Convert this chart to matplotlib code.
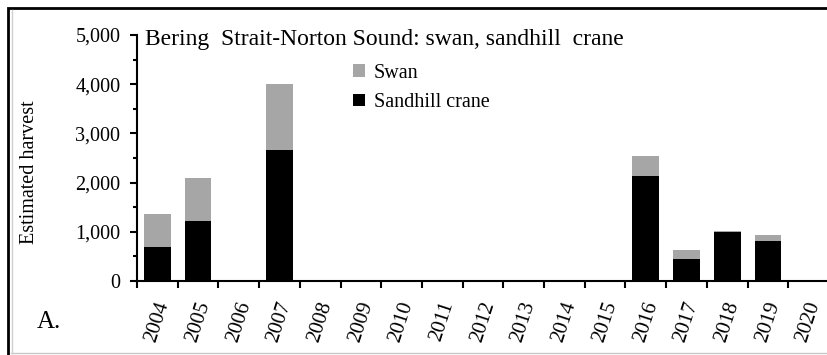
import matplotlib
matplotlib.use('Agg')
import matplotlib.pyplot as plt
import numpy as np
from matplotlib.patches import Rectangle
from matplotlib.lines import Line2D

years = ['2004', '2005', '2006', '2007', '2008', '2009', '2010', '2011', '2012',
         '2013', '2014', '2015', '2016', '2017', '2018', '2019', '2020']
sandhill_crane = [690, 1210, 0, 2660, 0, 0, 0, 0, 0, 0, 0, 0, 2140, 450, 1000, 810, 0]
swan = [670, 880, 0, 1340, 0, 0, 0, 0, 0, 0, 0, 0, 400, 180, 10, 130, 0]

plt.rcParams['font.family'] = ['Liberation Serif', 'DejaVu Serif']

W, H = 827, 355
fig = plt.figure(figsize=(W / 100, H / 100), dpi=100)
ax = fig.add_axes([137 / W, (H - 281) / H, (829 - 137) / W, 246 / H])

x = np.arange(len(years))
ax.bar(x, sandhill_crane, 0.66, color='black', label='Sandhill crane')
ax.bar(x, swan, 0.66, bottom=sandhill_crane, color='#a6a6a6', label='Swan')

ax.set_xlim(-0.5, len(years) - 0.5)
ax.set_ylim(0, 5000)
ax.set_yticks(np.arange(0, 5001, 1000))
ax.set_yticks(np.arange(500, 5000, 1000), minor=True)
ax.set_yticklabels([f'{v:,}' for v in range(0, 5001, 1000)], fontsize=14.5)

# year labels sit at bar centres, tick marks sit between bars
ax.set_xticks(np.arange(-0.5, len(years), 1))
ax.set_xticklabels([])
ax.set_xticks(x, minor=True)
ax.set_xticklabels(years, minor=True, rotation=72, fontsize=15, ha='center', va='top')
ax.tick_params(axis='x', which='minor', length=0, pad=13)
ax.tick_params(axis='x', which='major', length=5, width=1.5, direction='out')
ax.tick_params(axis='y', which='major', length=5, width=1.5, direction='out', pad=7)
ax.tick_params(axis='y', which='minor', length=3, width=1.5, direction='out')

for s in ['top', 'right']:
    ax.spines[s].set_visible(False)
for s in ['left', 'bottom']:
    ax.spines[s].set_linewidth(1.5)

fig.text(29 / W, (H - 172) / H, 'Estimated harvest', fontsize=14.5, rotation=90,
         va='center', ha='center')

handles, labels = ax.get_legend_handles_labels()
ax.legend(handles[::-1], labels[::-1], loc='upper left', bbox_to_anchor=(0.3, 0.915),
          frameon=False, fontsize=14.5, handlelength=0.6, handleheight=0.6,
          handletextpad=0.45, labelspacing=0.5, borderaxespad=0)

fig.text(145 / W, (H - 40) / H, 'Bering  Strait-Norton Sound: swan, sandhill  crane',
         fontsize=17, va='center', ha='left')
fig.text(37 / W, (H - 322) / H, 'A.', fontsize=18, va='center', ha='left')

# outer frame
fig.patches.append(Rectangle((8 / W, -0.1), 1.0, 1.1 - 8 / H, transform=fig.transFigure,
                             fill=False, edgecolor='black', linewidth=2))
fig.lines.append(Line2D([11 / W, 1.0], [2.5 / H, 2.5 / H], transform=fig.transFigure,
                        color='#c8c8c8', linewidth=1))
fig.lines.append(Line2D([12 / W, 12 / W], [2.5 / H, (H - 10) / H], transform=fig.transFigure,
                        color='#d0d0d0', linewidth=1))

fig.savefig('out.png', dpi=100)
